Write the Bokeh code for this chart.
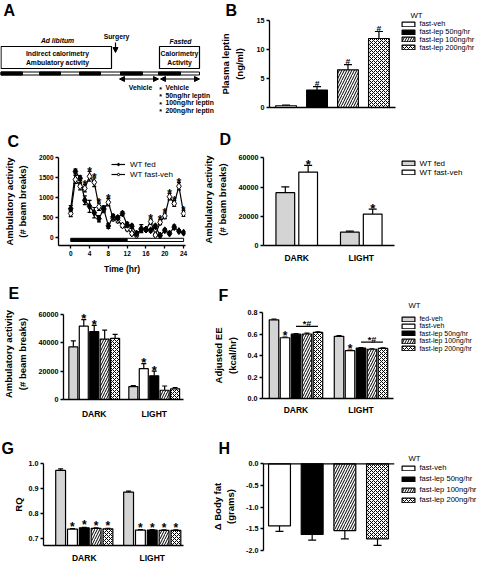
import numpy as np
from bokeh.plotting import figure
from bokeh.layouts import column, row
from bokeh.models import (Range1d, FixedTicker, Whisker, TeeHead, ColumnDataSource, Label,
                          Legend, LegendItem, Arrow, NormalHead, NumeralTickFormatter, Span)
from bokeh.core.properties import value
from bokeh.embed import file_html
from bokeh.resources import INLINE

FONT = "Liberation Sans"

# ======================= DATA =======================
# Panel A : protocol schematic
box_left = [0.5, 159]
box_right = [111, 199]
box_top = [46, 46]
box_bottom = [68, 68]
box_text = ["Indirect calorimetry", "Ambulatory activity", "Calorimetry", "Activity"]
box_text_x = [57, 57, 179, 179]
box_text_y = [53, 62, 53, 62]
dark_start = [0, 39, 79, 120, 158]
dark_end = [22, 60, 100, 142, 180]
treatments = ["Vehicle", "50ng/hr leptin", "100ng/hr leptin", "200ng/hr leptin"]
treat_y = [87, 94.5, 102, 109.5]

# Panel B : plasma leptin
lep_groups = ["fast-veh", "fast-lep 50ng/hr", "fast-lep 100ng/hr", "fast-lep 200ng/hr"]
lep_mean = [0.3, 3.0, 6.5, 11.9]
lep_sem = [0.1, 0.6, 0.9, 1.2]
lep_sig = ["", "#", "#", "#"]

# Panel C : hourly ambulatory activity
hours = list(range(25))
fed_act = [720, 1650, 1480, 930, 780, 620, 470, 720, 290, 520, 490, 600, 320,
           280, 100, 200, 200, 180, 280, 50, 180, 100, 260, 160, 120]
fed_act_sem = [80, 60, 60, 110, 150, 130, 80, 70, 60, 60, 50, 50, 60,
               50, 40, 40, 40, 40, 50, 30, 40, 30, 50, 40, 30]
fast_act = [600, 1450, 1280, 1230, 1530, 1380, 770, 700, 880, 480, 430, 300, 220,
            100, 60, 220, 200, 400, 60, 380, 540, 1020, 850, 1280, 600]
fast_act_sem = [80, 100, 90, 90, 120, 110, 90, 80, 90, 60, 60, 50, 50,
                40, 40, 100, 50, 60, 30, 60, 70, 80, 70, 90, 70]
c_sig_hours = [3, 4, 5, 6, 8, 17, 19, 20, 21, 22, 23, 24]
cycle_start = [0, 12]
cycle_end = [12, 24]
cycle_color = ["black", "white"]

# Panel D
periods = ["DARK", "LIGHT"]
d_groups = ["WT fed", "WT fast-veh"]
d_fed = [36200, 9100]
d_fed_sem = [4000, 700]
d_fast = [50300, 21500]
d_fast_sem = [4500, 3400]
d_sig = ["", "*"]

# Panels E-G series
series_names = ["fed-veh", "fast-veh", "fast-lep 50ng/hr", "fast-lep 100ng/hr", "fast-lep 200ng/hr"]

e_fed_veh = [37000, 9100]
e_fed_veh_sem = [4200, 700]
e_fast_veh = [51600, 21700]
e_fast_veh_sem = [4600, 3600]
e_lep50 = [47700, 16700]
e_lep50_sem = [4400, 3300]
e_lep100 = [42500, 6500]
e_lep100_sem = [6300, 3000]
e_lep200 = [43000, 7500]
e_lep200_sem = [2800, 800]
e_sig = ["", "*", "*", "", ""]

f_fed_veh = [0.732, 0.578]
f_fed_veh_sem = [0.006, 0.006]
f_fast_veh = [0.565, 0.445]
f_fast_veh_sem = [0.006, 0.006]
f_lep50 = [0.598, 0.470]
f_lep50_sem = [0.006, 0.004]
f_lep100 = [0.600, 0.458]
f_lep100_sem = [0.008, 0.005]
f_lep200 = [0.615, 0.466]
f_lep200_sem = [0.006, 0.006]
f_sig = ["", "*", "", "", ""]
f_bracket_sig = "*#"

g_fed_veh = [0.972, 0.885]
g_fed_veh_sem = [0.006, 0.004]
g_fast_veh = [0.736, 0.732]
g_fast_veh_sem = [0.002, 0.002]
g_lep50 = [0.741, 0.732]
g_lep50_sem = [0.002, 0.002]
g_lep100 = [0.739, 0.731]
g_lep100_sem = [0.002, 0.002]
g_lep200 = [0.737, 0.731]
g_lep200_sem = [0.002, 0.002]
g_sig = ["", "*", "*", "*", "*"]
RQ_BASE = 0.67

# Panel H
fat_mean = [-1.43, -1.63, -1.54, -1.73]
fat_sem = [0.13, 0.13, 0.19, 0.15]


# ======================= HELPERS =======================
def fs(v):
    return f"{v:.2f}px"


def series_style(name):
    if name in ("fed-veh", "WT fed"):
        return dict(fill_color="#d4d4d4")
    if name in ("fast-veh", "WT fast-veh"):
        return dict(fill_color="white")
    if name == "fast-lep 50ng/hr":
        return dict(fill_color="black")
    if name == "fast-lep 100ng/hr":
        return dict(fill_color="white", hatch_pattern="/", hatch_color="black",
                    hatch_scale=5, hatch_weight=1)
    return dict(fill_color="white", hatch_pattern="x", hatch_color="black",
                hatch_scale=4, hatch_weight=1)


def bare_fig(W, H, xr, yr, **kw):
    p = figure(width=W, height=H, x_range=Range1d(*xr), y_range=Range1d(*yr),
               x_axis_location=None, y_axis_location=None, min_border=0,
               toolbar_location=None, output_backend="svg", **kw)
    p.frame_align = False
    p.grid.visible = False
    p.outline_line_color = None
    return p


def make_fig(g, xr, yr, **kw):
    p = figure(width=g["W"], height=g["H"],
               x_range=Range1d(*xr), y_range=Range1d(*yr),
               min_border_left=int(round(g["L"])), min_border_top=int(round(g["T"])),
               min_border_right=g["W"] - int(round(g["R"])),
               min_border_bottom=g["H"] - int(round(g["B"])),
               toolbar_location=None, output_backend="svg", **kw)
    p.frame_align = False
    p.grid.visible = False
    p.outline_line_color = None
    p.background_fill_color = "white"
    p.border_fill_color = "white"
    return p


def letter(p, g, lx, ly, ch, shift=-6):
    T = g["T"]
    s = 2 * (T - 15.0 - ly)
    s = max(0, min(s, T - 21))
    p.title.text = ch
    p.title.align = "left"
    p.title.vertical_align = "top"
    p.title.text_font = FONT
    p.title.text_font_style = "bold"
    p.title.text_font_size = fs(16)
    p.title.text_color = "black"
    p.title.offset = lx - int(round(g["L"])) + shift
    p.title.standoff = int(round(s))


def style_axis(ax, tick_size=7.2, label_size=9.5, label_standoff=8):
    ax.axis_line_color = "black"
    ax.axis_line_width = 1.3
    ax.major_tick_line_color = "black"
    ax.major_tick_line_width = 1.3
    ax.major_tick_out = 3
    ax.major_tick_in = 0
    ax.minor_tick_line_color = None
    ax.major_label_text_font = FONT
    ax.major_label_text_font_style = "bold"
    ax.major_label_text_font_size = fs(tick_size)
    ax.major_label_text_color = "black"
    ax.major_label_standoff = 2
    ax.axis_label_text_font = FONT
    ax.axis_label_text_font_style = "bold"
    ax.axis_label_text_font_size = fs(label_size)
    ax.axis_label_text_color = "black"
    ax.axis_label_standoff = label_standoff


def period_axis(ax, standoff=7):
    ax.ticker = FixedTicker(ticks=[0, 1])
    ax.major_label_overrides = {0: periods[0], 1: periods[1]}
    ax.major_tick_line_color = None
    ax.major_tick_out = 0
    ax.major_label_text_font_size = fs(8.5)
    ax.major_label_standoff = standoff


def err_bars(p, x, lo, hi, up=True, down=False, head=7):
    src = ColumnDataSource(dict(base=list(x), lower=list(lo), upper=list(hi)))
    p.add_layout(Whisker(source=src, base="base", lower="lower", upper="upper",
                         dimension="height", line_color="black", line_width=1.2,
                         upper_head=TeeHead(size=head, line_width=1.2, line_color="black") if up else None,
                         lower_head=TeeHead(size=head, line_width=1.2, line_color="black") if down else None))


def sig_text(p, xs, ys, texts, size=13, yoff=1):
    p.text(x=list(xs), y=list(ys), text=list(texts), text_font=value(FONT),
           text_font_style="bold", text_font_size=fs(size), text_align="center",
           text_baseline="alphabetic", y_offset=-yoff, text_color="black")


def place_legend(p, frame_left, frame_bottom, items, box_x, first_cy, step,
                 font_px=8, lh=10, glyph_w=13, glyph_h=5):
    n = len(items)
    spacing = int(round(step)) - lh
    total = n * lh + (n - 1) * spacing
    top = first_cy - lh / 2.0
    loc = (box_x - frame_left, frame_bottom - (top + total))
    p.add_layout(Legend(items=items, location=loc, padding=0, margin=0, spacing=spacing,
                        label_height=lh, glyph_height=glyph_h, glyph_width=glyph_w,
                        label_standoff=5, label_text_font=FONT, label_text_color="black",
                        label_text_font_size=fs(font_px), background_fill_alpha=0,
                        border_line_alpha=0))


def legend_fig(W, H, x0, y0, names, heights, box_x, centers, font_px=7.6, wt=None,
               glyph_h=6.5):
    # legend panel: one Legend per entry so each entry sits exactly at its row
    p = bare_fig(W, H, (0, 1), (0, 1))
    gh = int(round(glyph_h))
    for i, name in enumerate(names):
        r = p.vbar(x=[i], top=[heights[i]], width=0.5, line_color="black", line_width=1.2,
                   visible=False, **series_style(name))
        item = LegendItem(label=name, renderers=[r])
        loc = (box_x - x0 - 1.6, H - (centers[i] - y0 + gh / 2.0))
        p.add_layout(Legend(items=[item], location=loc, padding=0, margin=0, spacing=0,
                            label_height=gh, glyph_height=gh, glyph_width=16,
                            label_standoff=3, label_text_font=FONT, label_text_color="black",
                            label_text_font_size=fs(font_px), background_fill_alpha=0,
                            border_line_alpha=0, inactive_fill_alpha=0))
    if wt is not None:
        p.add_layout(Label(x=wt[0] - x0, y=H - (wt[1] - y0), x_units="screen",
                           y_units="screen", text="WT", text_font=FONT, text_color="black",
                           text_font_size=fs(7.8), text_baseline="middle",
                           text_align="left"))
    return p


def grouped_bars(p, means, sems, names, slot, width, bottom=0.0, head=6):
    n = len(names)
    rends = []
    tops_all = []
    for i, name in enumerate(names):
        off = (i - (n - 1) / 2.0) * slot
        xs = [k + off for k in range(len(periods))]
        r = p.vbar(x=xs, top=means[i], bottom=bottom, width=width, line_color="black",
                   line_width=1.2, **series_style(name))
        ups = [m + e for m, e in zip(means[i], sems[i])]
        err_bars(p, xs, means[i], ups, head=head)
        rends.append(r)
        tops_all.append((xs, ups))
    return rends, tops_all


# ======================= ROW 1 =======================
pA = bare_fig(217, 125, (0, 217), (125, 0))
pA.quad(left=box_left, right=box_right, top=box_top, bottom=box_bottom,
        fill_color="white", line_color="black", line_width=1.2)
pA.quad(left=[0.5], right=[199], top=[71.5], bottom=[74.5], fill_color="white",
        line_color="black", line_width=1)
pA.quad(left=dark_start, right=dark_end, top=71.5, bottom=74.5, fill_color="black",
        line_color="black", line_width=1)
TXT = dict(text_font=value(FONT), text_font_size=fs(6.8), text_baseline="middle",
           text_color="black")
pA.text(x=box_text_x, y=box_text_y, text=box_text, text_font_style="bold",
        text_align="center", **TXT)
pA.text(x=[57, 180], y=[40, 41], text=["Ad libitum", "Fasted"],
        text_font_style="bold italic", text_align="center", **TXT)
pA.text(x=[116, 140], y=[36, 87], text=["Surgery", "Vehicle"], text_font_style="bold",
        text_align="center", **TXT)
pA.text(x=[165] * 4, y=treat_y, text=treatments, text_font_style="bold",
        text_align="left", **TXT)
pA.text(x=[160] * 4, y=[t + 1.5 for t in treat_y], text=["*"] * 4, text_font=value(FONT),
        text_font_style="bold", text_font_size=fs(7), text_align="center",
        text_baseline="middle", text_color="black")
pA.text(x=[3], y=[1], text=["A"], text_font=value(FONT), text_font_style="bold",
        text_font_size=fs(16), text_align="left", text_baseline="top", text_color="black")
for xs_, xe_ in [(119, 158), (160, 199)]:
    pA.add_layout(Arrow(x_start=xs_, y_start=78.5, x_end=xe_, y_end=78.5, line_width=1.2,
                        start=NormalHead(size=5, fill_color="black", line_color="black"),
                        end=NormalHead(size=5, fill_color="black", line_color="black")))
pA.add_layout(Arrow(x_start=115, y_start=42, x_end=115, y_end=52, line_width=1.2,
                    end=NormalHead(size=5, fill_color="black", line_color="black")))

gB = dict(W=180, H=125, L=45, R=178, T=20, B=107)
pB = make_fig(gB, (-0.535, 3.535), (0, 15))
style_axis(pB.xaxis[0])
style_axis(pB.yaxis[0], label_standoff=9)
pB.xaxis.ticker = FixedTicker(ticks=[])
pB.yaxis.ticker = FixedTicker(ticks=[0, 5, 10, 15])
pB.yaxis.axis_label = "Plasma leptin\n(ng/ml)"
for i, name in enumerate(lep_groups):
    pB.vbar(x=[i], top=[lep_mean[i]], bottom=0, width=0.67, line_color="black",
            line_width=1.2, **series_style(name))
err_bars(pB, range(4), lep_mean, [m + e for m, e in zip(lep_mean, lep_sem)], head=8)
sig_text(pB, range(4), [m + e for m, e in zip(lep_mean, lep_sem)], lep_sig, size=8.5, yoff=3)
letter(pB, gB, 224 - 217, 2, "B")
legB = legend_fig(83, 125, 397, 0, lep_groups, lep_mean, 402, [25.3, 33.1, 40.9, 48.7],
                  font_px=7.3, wt=(410, 15))

# ======================= ROW 2 =======================
gC = dict(W=200, H=152, L=50, R=185, T=32, B=120)
pC = make_fig(gC, (-2.6, 24.4), (-200, 2000))
style_axis(pC.xaxis[0], tick_size=6.5, label_standoff=5)
style_axis(pC.yaxis[0], tick_size=6.5, label_standoff=8)
pC.xaxis.ticker = FixedTicker(ticks=[0, 4, 8, 12, 16, 20, 24])
pC.yaxis.ticker = FixedTicker(ticks=[0, 500, 1000, 1500, 2000])
pC.xaxis.axis_label = "Time (hr)"
pC.xaxis.axis_label_text_font_size = fs(8.5)
pC.yaxis.axis_label = "Ambulatory activity\n(# beam breaks)"
pC.quad(left=cycle_start, right=cycle_end, top=-20, bottom=-100, fill_color=cycle_color,
        line_color="black", line_width=1)
err_bars(pC, hours, [v - e for v, e in zip(fed_act, fed_act_sem)],
         [v + e for v, e in zip(fed_act, fed_act_sem)], up=True, down=True, head=4)
err_bars(pC, hours, [v - e for v, e in zip(fast_act, fast_act_sem)],
         [v + e for v, e in zip(fast_act, fast_act_sem)], up=True, down=True, head=4)
l_fed = pC.line(hours, fed_act, line_color="black", line_width=1.2)
l_fast = pC.line(hours, fast_act, line_color="black", line_width=1.2)
s_fast = pC.scatter(hours, fast_act, marker="diamond", size=7, fill_color="white",
                    line_color="black", line_width=1)
s_fed = pC.scatter(hours, fed_act, marker="diamond", size=7, fill_color="black",
                   line_color="black", line_width=1)
c_sig_y = [max(fed_act[h] + fed_act_sem[h], fast_act[h] + fast_act_sem[h]) for h in c_sig_hours]
sig_text(pC, c_sig_hours, c_sig_y, ["*"] * len(c_sig_hours), size=12, yoff=0)
place_legend(pC, 50, 120, [LegendItem(label="WT fed", renderers=[l_fed, s_fed]),
                           LegendItem(label="WT fast-veh", renderers=[l_fast, s_fast])],
             103, 39, 10, font_px=8, lh=10, glyph_w=14, glyph_h=8)
letter(pC, gC, 3, 6, "C", shift=-4)

gD = dict(W=196, H=152, L=62, R=194, T=27.6, B=120)
pD = make_fig(gD, (-0.515, 1.515), (0, 63000))
style_axis(pD.xaxis[0])
style_axis(pD.yaxis[0], label_standoff=8)
period_axis(pD.xaxis[0], standoff=7)
pD.yaxis.ticker = FixedTicker(ticks=[0, 20000, 40000, 60000])
pD.yaxis.bounds = (0, 60000)
pD.yaxis.axis_label = "Ambulatory activity\n(# beam breaks)"
rD, topsD = grouped_bars(pD, [d_fed, d_fast], [d_fed_sem, d_fast_sem], d_groups,
                         slot=0.354, width=0.29, head=8)
sig_text(pD, topsD[1][0], topsD[1][1], d_sig[1:] * 2, size=13, yoff=1)
letter(pD, gD, 224 - 200, 6, "D")
legD = legend_fig(84, 152, 396, 125, d_groups, [d_fed[0], d_fast[0]], 402, [164.5, 173.5],
                  font_px=8)

# ======================= ROW 3 =======================
gE = dict(W=205, H=147, L=54, R=183, T=30.6, B=122)
pE = make_fig(gE, (-0.512, 1.488), (0, 64000))
style_axis(pE.xaxis[0])
style_axis(pE.yaxis[0], label_standoff=8)
period_axis(pE.xaxis[0], standoff=9)
pE.yaxis.ticker = FixedTicker(ticks=[0, 20000, 40000, 60000])
pE.yaxis.bounds = (0, 60000)
pE.yaxis.axis_label = "Ambulatory activity\n(# beam breaks)"
rE, topsE = grouped_bars(pE, [e_fed_veh, e_fast_veh, e_lep50, e_lep100, e_lep200],
                         [e_fed_veh_sem, e_fast_veh_sem, e_lep50_sem, e_lep100_sem, e_lep200_sem],
                         series_names, slot=0.174, width=0.15, head=5)
for i, sgn in enumerate(e_sig):
    if sgn:
        sig_text(pE, topsE[i][0], topsE[i][1], [sgn] * 2, size=13, yoff=1)
letter(pE, gE, 3, 10, "E", shift=-4)

gF = dict(W=190, H=147, L=57, R=188, T=35.3, B=121.3)
pF = make_fig(gF, (-0.515, 1.5), (0, 0.8))
style_axis(pF.xaxis[0])
style_axis(pF.yaxis[0], label_standoff=7)
period_axis(pF.xaxis[0], standoff=6)
pF.yaxis.ticker = FixedTicker(ticks=[0, 0.2, 0.4, 0.6, 0.8])
pF.yaxis.formatter = NumeralTickFormatter(format="0.0")
pF.yaxis.axis_label = "Adjusted EE\n(kcal/hr)"
f_means = [f_fed_veh, f_fast_veh, f_lep50, f_lep100, f_lep200]
rF, topsF = grouped_bars(pF, f_means,
                         [f_fed_veh_sem, f_fast_veh_sem, f_lep50_sem, f_lep100_sem, f_lep200_sem],
                         series_names, slot=0.169, width=0.146, head=5)
for i, sgn in enumerate(f_sig):
    if sgn:
        sig_text(pF, topsF[i][0], topsF[i][1], [sgn] * 2, size=12, yoff=1)
br_y = [max(topsF[j][1][k] for j in (2, 3, 4)) + 0.05 for k in range(2)]
pF.segment(x0=topsF[2][0], x1=topsF[4][0], y0=br_y, y1=br_y, line_color="black", line_width=1.2)
sig_text(pF, [(a + b) / 2 for a, b in zip(topsF[2][0], topsF[4][0])], br_y,
         [f_bracket_sig] * 2, size=9, yoff=2)
letter(pF, gF, 224 - 205, 10, "F")
legF = legend_fig(85, 147, 395, 277, series_names, [m[0] for m in f_means], 402,
                  [319.0, 326.4, 333.8, 341.2, 348.6], font_px=7.0, wt=(408, 305))

# ======================= ROW 4 =======================
gG = dict(W=205, H=141, L=43, R=183, T=38.7, B=126)
pG = make_fig(gG, (-0.6, 1.46), (RQ_BASE, 1.0))
style_axis(pG.xaxis[0])
style_axis(pG.yaxis[0], label_standoff=2)
period_axis(pG.xaxis[0], standoff=7)
pG.yaxis.ticker = FixedTicker(ticks=[0.7, 0.8, 0.9, 1.0])
pG.yaxis.formatter = NumeralTickFormatter(format="0.0")
pG.yaxis.axis_label = "RQ"
rG, topsG = grouped_bars(pG, [g_fed_veh, g_fast_veh, g_lep50, g_lep100, g_lep200],
                         [g_fed_veh_sem, g_fast_veh_sem, g_lep50_sem, g_lep100_sem, g_lep200_sem],
                         series_names, slot=0.174, width=0.145, bottom=RQ_BASE, head=5)
for i, sgn in enumerate(g_sig):
    if sgn:
        sig_text(pG, topsG[i][0], topsG[i][1], [sgn] * 2, size=12, yoff=2)
letter(pG, gG, 3, 19, "G", shift=-2)

H_TOP = 0.03
gH = dict(W=191, H=141, L=58, R=189, T=39 - H_TOP * 43.5, B=126)
pH = make_fig(gH, (-0.49, 3.52), (-2.0, H_TOP), x_axis_location=None)
style_axis(pH.yaxis[0], label_standoff=7)
pH.yaxis.ticker = FixedTicker(ticks=[-2.0, -1.5, -1.0, -0.5, 0.0])
pH.yaxis.bounds = (-2.0, 0.0)
pH.yaxis.formatter = NumeralTickFormatter(format="0.0")
pH.yaxis.axis_label = "\u0394 Body fat\n(grams)"
pH.add_layout(Span(location=0, dimension="width", line_color="black", line_width=1.3))
for i, name in enumerate(lep_groups):
    pH.vbar(x=[i], top=0, bottom=[fat_mean[i]], width=0.67, line_color="black",
            line_width=1.2, **series_style(name))
err_bars(pH, range(4), [m - e for m, e in zip(fat_mean, fat_sem)], fat_mean,
         up=False, down=True, head=8)
letter(pH, gH, 224 - 205, 19, "H")
legH = legend_fig(84, 141, 396, 424, lep_groups, fat_mean, 402, [469, 480, 491, 501],
                  font_px=7.6, wt=(408, 458))

layout = column(row(pA, pB, legB), row(pC, pD, legD), row(pE, pF, legF), row(pG, pH, legH))
open("out.html", "w").write(file_html(layout, INLINE))
